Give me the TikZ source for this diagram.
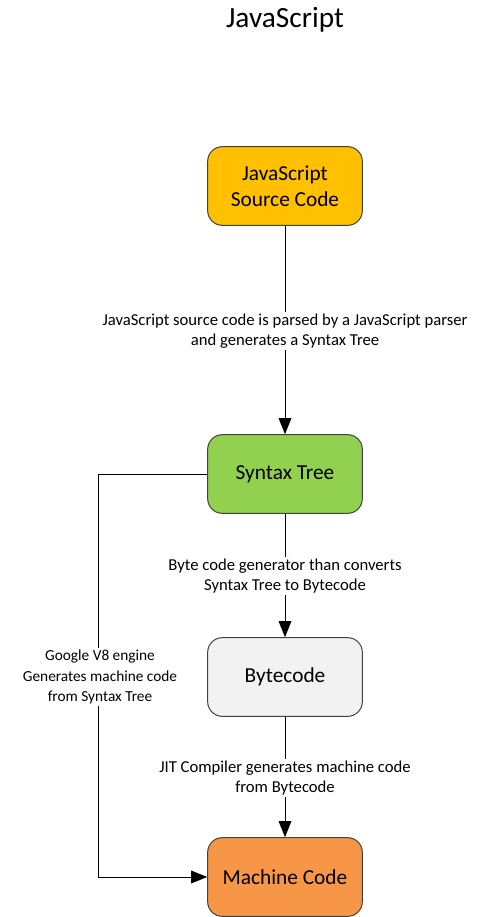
\documentclass[tikz,border=0pt]{standalone}
\usepackage{fontspec}
\setmainfont{Carlito}
\usetikzlibrary{positioning}
\usetikzlibrary{arrows.meta}

\definecolor{srcgold}{HTML}{FFC000}
\definecolor{treegreen}{HTML}{92D050}
\definecolor{bytegray}{HTML}{F2F2F2}
\definecolor{machorange}{HTML}{F79646}

\begin{document}
\begin{tikzpicture}[x = 0.75pt, y = -0.75pt,
  box/.style = {draw = black!75, line width = 0.75pt, rounded corners = 11pt, minimum width = 116pt, minimum height = 59pt, align = center, font = \fontsize{16}{19.5}\selectfont},
  lbl/.style = {fill = white, align = center, inner sep = 1.5pt, font = \fontsize{12.5}{15}\selectfont},
  link/.style = {-{Triangle[length = 12pt, width = 9.5pt]}, line width = 0.75pt}
]
\useasboundingbox (0,0) rectangle (477,917);

\node[font = \fontsize{22}{24}\selectfont] at (285,20) (title) {JavaScript};

% boxes
\node[box, fill = srcgold] at (285,186) (src) {JavaScript\\Source Code};
\node[box, fill = treegreen] at (285,474) (tree) {Syntax Tree};
\node[box, fill = bytegray] at (285,677) (byte) {Bytecode};
\node[box, fill = machorange] at (285,877) (mach) {Machine Code};

% links
\draw[link] (src) -- (tree);
\draw[link] (tree) -- (byte);
\draw[link] (byte) -- (mach);
\draw[link] (tree.west) -- ++(-109,0) |- (mach.west);

% link labels
\node[lbl] at (285,331) (parse) {JavaScript source code is parsed by a JavaScript parser\\and generates a Syntax Tree};
\node[lbl] at (285,576) (gen) {Byte code generator than converts\\Syntax Tree to Bytecode};
\node[lbl] at (285,778) (jit) {JIT Compiler generates machine code\\from Bytecode};
\node[lbl, font = \fontsize{11.5}{15.3}\selectfont] at (100,677) (veight) {Google V8 engine\\Generates machine code\\from Syntax Tree};

\end{tikzpicture}
\end{document}
